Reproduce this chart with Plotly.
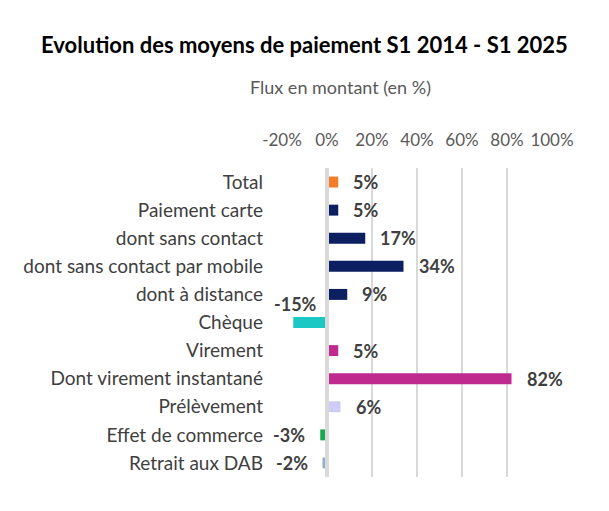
import plotly.graph_objects as go

# Data (growth S1 2014 -> S1 2025, in %)
categories = [
    "Total", "Paiement carte", "dont sans contact", "dont sans contact par mobile",
    "dont à distance", "Chèque", "Virement", "Dont virement instantané",
    "Prélèvement", "Effet de commerce", "Retrait aux DAB",
]
values = [5, 5, 17, 34, 9, -15, 5, 82, 6, -3, -2]
tick_vals = [-20, 0, 20, 40, 60, 80, 100]
tick_text = ["-20%", "0%", "20%", "40%", "60%", "80%", "100%"]

# Styling
bar_colors = [
    "#F47D2A", "#0C1F60", "#0C1F60", "#0C1F60", "#0C1F60", "#1CC8C3",
    "#BE2A8E", "#BE2A8E", "#CCCCF4", "#1AA84C", "#8FB0C8",
]
FONT = "Lato"
TEXT_COLOR = "#404040"
GRID_COLOR = "#D9D9D9"
label_nudge = {"Chèque": dict(xanchor="center", xshift=2, yshift=19)}

fig = go.Figure()
fig.add_trace(
    go.Bar(
        x=values,
        y=categories,
        orientation="h",
        marker_color=bar_colors,
        marker_line_width=0,
        hoverinfo="skip",
    )
)

# data labels
for cat, v in zip(categories, values):
    opts = dict(xanchor="left", xshift=13) if v >= 0 else dict(xanchor="right", xshift=-13)
    opts.update(label_nudge.get(cat, {}))
    fig.add_annotation(
        x=v, y=cat, text=f"{v}%", showarrow=False,
        font=dict(family=FONT, size=18, color=TEXT_COLOR, weight="bold"),
        yanchor="middle", **opts,
    )

# subtitle
fig.add_annotation(
    xref="paper", yref="paper", x=0.216, y=1.263,
    text="Flux en montant (en %)", showarrow=False,
    font=dict(family=FONT, size=18, color="#595959"),
    xanchor="center", yanchor="middle",
)

# thick zero line drawn over the bars, as in the original
fig.add_shape(
    type="line", xref="x", yref="paper", x0=0, x1=0, y0=0, y1=1,
    line=dict(color=GRID_COLOR, width=4), layer="above",
)

fig.update_layout(
    width=609,
    height=511,
    margin=dict(l=282, r=57, t=168, b=34),
    paper_bgcolor="white",
    plot_bgcolor="white",
    showlegend=False,
    bargap=0.61,
    title=dict(
        text="<b>Evolution des moyens de paiement S1 2014 - S1 2025</b>",
        font=dict(family=FONT, size=22, color="black"),
        x=0.5, xref="container", xanchor="center",
        y=1 - 45 / 511, yref="container", yanchor="middle",
    ),
)

fig.update_xaxes(
    side="top",
    range=[-20, 100],
    tickvals=tick_vals,
    ticktext=tick_text,
    showgrid=True,
    gridcolor=GRID_COLOR,
    gridwidth=2,
    zeroline=False,
    showline=False,
    ticks="",
    ticklabelstandoff=18,
    tickfont=dict(family=FONT, size=17, color="#595959"),
    fixedrange=True,
)
fig.update_yaxes(
    autorange="reversed",
    showgrid=False,
    zeroline=False,
    showline=False,
    ticks="",
    ticklabelstandoff=18,
    tickfont=dict(family=FONT, size=19, color=TEXT_COLOR),
    fixedrange=True,
)

# page body has a default 8px margin; drop it so the figure sits at the window origin
fig.write_html(
    "out.html",
    config={"displayModeBar": False},
    post_script="document.body.style.margin = '0';",
)
